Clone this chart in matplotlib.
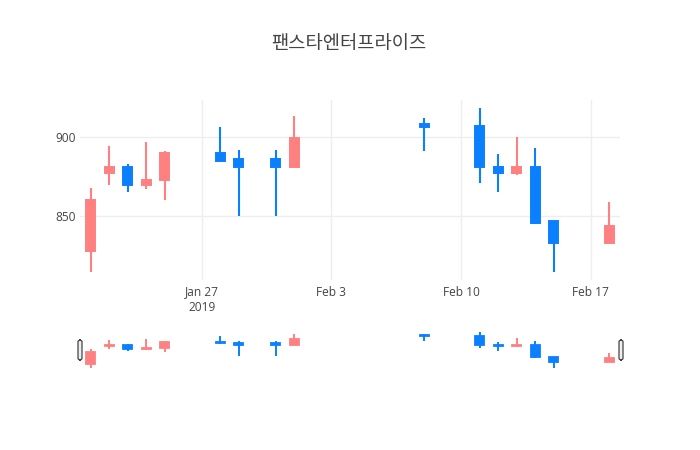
import matplotlib
matplotlib.use("Agg")
import matplotlib.pyplot as plt
import matplotlib.dates as mdates
from matplotlib.patches import FancyBboxPatch
import pandas as pd

# 일별 시세
dates = ["2019-01-21", "2019-01-22", "2019-01-23", "2019-01-24", "2019-01-25",
         "2019-01-28", "2019-01-29", "2019-01-31", "2019-02-01", "2019-02-08",
         "2019-02-11", "2019-02-12", "2019-02-13", "2019-02-14", "2019-02-15",
         "2019-02-18"]
opens = [828, 877, 881, 870, 873, 890, 886, 886, 881, 908, 907, 881, 877, 881, 847, 833]
highs = [868, 894, 883, 897, 891, 906, 892, 892, 913, 912, 918, 889, 900, 893, 847, 859]
lows = [815, 870, 865, 867, 860, 884, 850, 850, 881, 891, 871, 865, 876, 845, 815, 833]
closes = [860, 881, 870, 873, 890, 885, 881, 881, 899, 906, 881, 877, 881, 846, 833, 844]

title = "팬스타엔터프라이즈"
tick_dates = ["2019-01-27", "2019-02-03", "2019-02-10", "2019-02-17"]
tick_labels = ["Jan 27\n2019", "Feb 3", "Feb 10", "Feb 17"]

up_color = "#ff8080"
down_color = "#0a80ff"

x = mdates.date2num(pd.to_datetime(dates))
xt = mdates.date2num(pd.to_datetime(tick_dates))

plt.rcParams['font.family'] = ['Open Sans', 'DejaVu Sans']

W, H = 700, 450
fig = plt.figure(figsize=(7, 4.5), dpi=100)

def box(l, t, r, b):
    return [l / W, 1 - b / H, (r - l) / W, (b - t) / H]

ax = fig.add_axes(box(80, 100, 620, 280))
sl = fig.add_axes(box(80, 330, 620, 370))

xlim = (x[0] - 0.58, x[-1] + 0.58)
ylim = (809.9, 923.2)

def candles(a, lw, w, ew):
    for xi, o, h, l, c in zip(x, opens, highs, lows, closes):
        col = up_color if c >= o else down_color
        a.vlines(xi, l, h, color=col, linewidth=lw, zorder=3)
        a.bar(xi, max(abs(c - o), 0.3), bottom=min(o, c), width=w,
              color=col, edgecolor=col, linewidth=ew, zorder=4)

candles(ax, 1.5, 0.48, 1.4)
ax.set_xlim(*xlim)
ax.set_ylim(*ylim)
ax.set_xticks(xt)
ax.set_xticklabels(tick_labels)
ax.set_yticks([850, 900])
ax.grid(True, color="#eeeeee", linewidth=1)
ax.set_axisbelow(True)
for s in ax.spines.values():
    s.set_visible(False)
ax.tick_params(length=0, colors="#444444", labelsize=8.6)
ax.tick_params(axis='x', pad=4)
ax.tick_params(axis='y', pad=3)

candles(sl, 1.4, 0.48, 1.3)
sl.set_xlim(*xlim)
sl.set_ylim(*ylim)
sl.set_xticks([])
sl.set_yticks([])
for s in sl.spines.values():
    s.set_visible(False)

# range slider handles
for hx in (80, 621):
    fig.patches.append(FancyBboxPatch(((hx - 2) / W, 1 - 360 / H), 4 / W, 20 / H,
                                      boxstyle="round,pad=0,rounding_size=0.004",
                                      transform=fig.transFigure, facecolor="#eeeeee",
                                      edgecolor="#444444", linewidth=0.9))

fig.text(349 / W, 1 - 44 / H, title, ha="center", va="center", fontsize=13.5,
         color="#444444", family=['Noto Sans CJK KR', 'DejaVu Sans'])

fig.savefig("out.png", dpi=100)
